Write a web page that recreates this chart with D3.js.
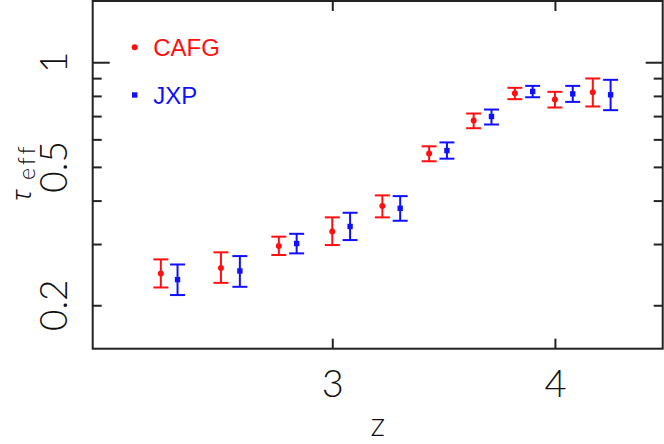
<!DOCTYPE html>
<html>
<head>
<meta charset="utf-8">
<script src="https://cdn.jsdelivr.net/npm/d3@7"></script>
<style>
  html, body { margin: 0; padding: 0; background: #fff; }
  svg { display: block; }
  .lbl { font-family: Lato, "Open Sans", "DejaVu Sans", sans-serif; font-weight: 300; fill: #111; }
  .leg { font-family: "Liberation Sans Narrow", "Liberation Sans", Arial, sans-serif; }
</style>
</head>
<body>
<svg id="chart" width="664" height="444"></svg>
<script>
// ---- data ----
const seriesNames = ["CAFG", "JXP"];
const seriesColors = ["#ff1010", "#1010ff"];

const zCAFG     = [2.23, 2.50, 2.76, 3.00, 3.225, 3.435, 3.635, 3.82, 4.00, 4.17];
const tauCAFG   = [0.247, 0.256, 0.296, 0.326, 0.386, 0.546, 0.680, 0.814, 0.781, 0.820];
const tauCAFGlo = [0.225, 0.232, 0.279, 0.298, 0.358, 0.519, 0.646, 0.783, 0.741, 0.746];
const tauCAFGhi = [0.271, 0.284, 0.315, 0.358, 0.414, 0.573, 0.712, 0.844, 0.822, 0.898];

const zJXP      = [2.305, 2.585, 2.84, 3.08, 3.305, 3.515, 3.715, 3.90, 4.08, 4.25];
const tauJXP    = [0.237, 0.251, 0.301, 0.337, 0.380, 0.557, 0.698, 0.824, 0.811, 0.806];
const tauJXPlo  = [0.214, 0.226, 0.282, 0.308, 0.350, 0.528, 0.662, 0.793, 0.769, 0.728];
const tauJXPhi  = [0.262, 0.277, 0.321, 0.369, 0.412, 0.588, 0.731, 0.855, 0.855, 0.890];

const xDomain = [1.924, 4.484];
const yDomain = [0.15, 1.5];
const xTicks = [3, 4];
const yMajorTicks = [1];
const yMinorTicks = [0.2, 0.3, 0.4, 0.5, 0.6, 0.7, 0.8, 0.9];
const yTickLabels = [1, 0.5, 0.2];

// ---- layout ----
const svg = d3.select("#chart");
const L = 92.7, R = 662.7, T = 1, B = 348.7;
const x = d3.scaleLinear().domain(xDomain).range([L, R]);
const y = d3.scaleLog().domain(yDomain).range([B, T]);
const axisColor = "#222";

// frame
svg.append("rect").attr("x", L).attr("y", T).attr("width", R - L).attr("height", B - T)
  .attr("fill", "none").attr("stroke", axisColor).attr("stroke-width", 2);

// x ticks (bottom and top)
const gx = svg.append("g").attr("transform", `translate(0,${B})`)
  .call(d3.axisBottom(x).tickValues(xTicks).tickSizeInner(-10).tickSizeOuter(0).tickPadding(21).tickFormat(d3.format("d")));
const gxt = svg.append("g").attr("transform", `translate(0,${T})`)
  .call(d3.axisTop(x).tickValues(xTicks).tickSizeInner(-10).tickSizeOuter(0).tickFormat(""));
[gx, gxt].forEach(g => {
  g.select(".domain").remove();
  g.selectAll(".tick line").attr("stroke", axisColor).attr("stroke-width", 2);
});
gx.selectAll(".tick text").attr("class", "lbl").attr("font-size", 38).attr("dy", "0.72em").attr("fill", "#111");

// y ticks left & right
function yTicks(isLeft) {
  const g = svg.append("g").attr("transform", `translate(${isLeft ? L : R},0)`);
  const axMaj = (isLeft ? d3.axisLeft(y) : d3.axisRight(y)).tickValues(yMajorTicks).tickSizeInner(-17).tickSizeOuter(0).tickFormat("");
  const axMin = (isLeft ? d3.axisLeft(y) : d3.axisRight(y)).tickValues(yMinorTicks).tickSizeInner(-9).tickSizeOuter(0).tickFormat("");
  g.append("g").call(axMaj);
  g.append("g").call(axMin);
  g.selectAll(".domain").remove();
  g.selectAll(".tick line").attr("stroke", axisColor).attr("stroke-width", 2);
}
yTicks(true);
yTicks(false);

// y tick labels (rotated)
svg.append("g").selectAll("text").data(yTickLabels).join("text")
  .attr("class", "lbl")
  .attr("font-size", 37)
  .attr("text-anchor", "middle")
  .attr("transform", d => `translate(67,${y(d)}) rotate(-90)`)
  .text(d => d3.format("")(d));

// axis titles
svg.append("text").attr("class", "lbl").attr("font-size", 33)
  .attr("text-anchor", "middle").attr("x", (L + R) / 2).attr("y", 436).text("z");

svg.append("text").attr("font-family", "\"Noto Sans\", \"Open Sans\", sans-serif").attr("font-style", "italic")
  .attr("font-weight", 300).attr("font-size", 27).attr("fill", "#111")
  .attr("transform", "translate(31,201) rotate(-90)").text("τ");
svg.append("text").attr("class", "lbl").attr("font-size", 23).attr("letter-spacing", 3)
  .attr("transform", "translate(35,180) rotate(-90)").text("eff");

// ---- data marks ----
const series = [
  { name: seriesNames[0], color: seriesColors[0], z: zCAFG, v: tauCAFG, lo: tauCAFGlo, hi: tauCAFGhi, shape: "circle" },
  { name: seriesNames[1], color: seriesColors[1], z: zJXP,  v: tauJXP,  lo: tauJXPlo,  hi: tauJXPhi,  shape: "square" }
];
const capW = 7.5;
series.forEach(s => {
  const pts = s.z.map((z, i) => ({ z, v: s.v[i], lo: s.lo[i], hi: s.hi[i] }));
  const g = svg.append("g");
  g.selectAll("line.bar").data(pts).join("line")
    .attr("x1", d => x(d.z)).attr("x2", d => x(d.z))
    .attr("y1", d => y(d.lo)).attr("y2", d => y(d.hi))
    .attr("stroke", s.color).attr("stroke-width", 2);
  g.selectAll("line.capt").data(pts).join("line")
    .attr("x1", d => x(d.z) - capW).attr("x2", d => x(d.z) + capW)
    .attr("y1", d => y(d.hi)).attr("y2", d => y(d.hi))
    .attr("stroke", s.color).attr("stroke-width", 2);
  g.selectAll("line.capb").data(pts).join("line")
    .attr("x1", d => x(d.z) - capW).attr("x2", d => x(d.z) + capW)
    .attr("y1", d => y(d.lo)).attr("y2", d => y(d.lo))
    .attr("stroke", s.color).attr("stroke-width", 2);
  if (s.shape === "circle") {
    g.selectAll("circle").data(pts).join("circle")
      .attr("cx", d => x(d.z)).attr("cy", d => y(d.v)).attr("r", 3)
      .attr("fill", s.color);
  } else {
    g.selectAll("rect").data(pts).join("rect")
      .attr("x", d => x(d.z) - 2.7).attr("y", d => y(d.v) - 2.7)
      .attr("width", 5.4).attr("height", 5.4).attr("fill", s.color);
  }
});

// ---- legend ----
const legY = [47.3, 95];
const leg = svg.append("g").selectAll("g").data(series).join("g")
  .attr("transform", (d, i) => `translate(134.7,${legY[i]})`);
leg.each(function (d) {
  const g = d3.select(this);
  if (d.shape === "circle") g.append("circle").attr("r", 3).attr("fill", d.color);
  else g.append("rect").attr("x", -2.7).attr("y", -2.7).attr("width", 5.4).attr("height", 5.4).attr("fill", d.color);
  g.append("text").attr("class", "leg").attr("x", 18.5).attr("y", 9).attr("font-size", 24)
    .attr("fill", d.color).text(d.name);
});
</script>
</body>
</html>
